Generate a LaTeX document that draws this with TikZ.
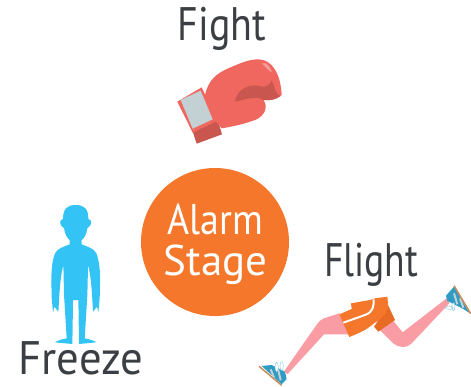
\documentclass[tikz,border=0pt]{standalone}
\usepackage{fontspec}
\setmainfont{PT Sans}
\definecolor{alarmorange}{HTML}{F5772B}
\definecolor{darkorange}{HTML}{E76A25}
\definecolor{glovered}{HTML}{F0675F}
\definecolor{glovedark}{HTML}{C9574F}
\definecolor{glovelight}{HTML}{F59A98}
\definecolor{cuffgrey}{HTML}{C3D0D4}
\definecolor{skyblue}{HTML}{33C4F5}
\definecolor{legpink}{HTML}{F99CA3}
\definecolor{shoeblue}{HTML}{2E9CC4}
\definecolor{soletan}{HTML}{C98B5C}
\definecolor{inkgrey}{HTML}{3B3E42}
\tikzset{
    word/.style = {text = inkgrey, inner sep = 0pt, font = \fontsize{47}{47}\selectfont},
    stageword/.style = {text = white, inner sep = 0pt, font = \fontsize{43}{43}\selectfont},
    partzoom/.style = {scale = 1/3, line join = round}
}
\begin{document}
\begin{tikzpicture}[x = 1pt, y = -1pt]
    \useasboundingbox (0, 0) rectangle (471, 386);
    \node[circle, fill = alarmorange, minimum size = 148pt, inner sep = 0pt] (alarm) at (215, 242) {};
    \node[stageword, xscale = 0.88] (alarmword) at (215.5, 219) {Alarm};
    \node[stageword] (stagelabel) at (215.5, 265) {Stage};
    \node[word, xscale = 0.85] (fight) at (222, 29) {Fight};
    \node[word, xscale = 0.8] (flight) at (371, 265) {Flight};
    \node[word, xscale = 0.95] (freeze) at (81, 358) {Freeze};
    % glove
    \begin{scope}[shift = {(160, 0)}, partzoom]
        \fill[glovedark] (95, 385) -- (172, 355) -- (186, 403) -- (110, 431) -- cycle;
        \fill[glovered] (135, 285) .. controls (145, 240) and (170, 220) .. (205, 205)
            .. controls (240, 190) and (265, 178) .. (295, 178)
            .. controls (335, 178) and (362, 220) .. (365, 285)
            .. controls (350, 300) and (330, 302) .. (310, 300)
            .. controls (325, 320) and (315, 345) .. (290, 358)
            .. controls (255, 372) and (215, 380) .. (185, 385) -- (165, 360) -- cycle;
        \fill[glovedark] (225, 305) .. controls (230, 270) and (265, 250) .. (300, 258)
            .. controls (320, 265) and (335, 250) .. (335, 240)
            .. controls (345, 260) and (345, 285) .. (362, 288)
            .. controls (345, 300) and (325, 302) .. (310, 300)
            .. controls (290, 285) and (250, 300) .. (225, 305) -- cycle;
        \fill[glovelight] (305, 190) .. controls (320, 185) and (330, 200) .. (337, 218)
            .. controls (325, 212) and (315, 200) .. (305, 190) -- cycle;
        \fill[glovered] (52, 305) -- (125, 262) -- (172, 362) -- (98, 398) -- cycle;
        \fill[cuffgrey] (62, 300) -- (122, 272) -- (158, 358) -- (98, 386) -- cycle;
    \end{scope}
    % person
    \begin{scope}[shift = {(75.7, 195)}, partzoom]
        \foreach \sgn in {1, -1}{
            \fill[skyblue, xscale = \sgn] (1, 30) .. controls (-25, 30) and (-38, 40) .. (-38, 72)
                .. controls (-50, 74) and (-50, 90) .. (-35, 100)
                .. controls (-32, 120) and (-25, 130) .. (-18, 135)
                -- (-18, 148) .. controls (-35, 155) and (-55, 160) .. (-62, 175)
                .. controls (-72, 200) and (-73, 230) .. (-73, 260)
                -- (-72, 310) -- (-68, 352) -- (-64, 335) -- (-52, 350) -- (-50, 315)
                .. controls (-48, 280) and (-45, 240) .. (-37, 210)
                -- (-35, 300) -- (-27, 430) .. controls (-40, 433) and (-55, 436) .. (-62, 442)
                -- (-10, 447) -- (-8, 315) -- (1, 315) -- cycle;
        }
    \end{scope}
    % runner
    \begin{scope}[shift = {(250, 235)}, partzoom]
        \fill[legpink] (268, 235) -- (222, 250) .. controls (210, 255) and (205, 262) .. (198, 272)
            -- (103, 408) -- (112, 418) -- (222, 298) -- (295, 298) -- cycle;
        \fill[legpink] (390, 285) -- (430, 258) -- (458, 292) -- (590, 190) -- (598, 205) -- (485, 325)
            .. controls (470, 340) and (450, 340) .. (430, 325) -- cycle;
        \fill[darkorange] (372, 275) -- (385, 290) -- (435, 255) -- (415, 212) -- cycle;
        \fill[alarmorange] (268, 238) -- (305, 222) -- (303, 205) -- (360, 195) -- (375, 190) -- (412, 185)
            -- (415, 215) .. controls (408, 240) and (390, 255) .. (372, 265)
            .. controls (350, 285) and (325, 295) .. (298, 306) -- cycle;
        \draw[white, line width = 2pt] (280, 263) -- (345, 240) .. controls (368, 232) and (372, 215) .. (371, 193);
        % left shoe
        \fill[shoeblue] (35, 393) -- (65, 390) -- (105, 410) -- (110, 432) -- (95, 448) -- cycle;
        \draw[cuffgrey, line width = 2pt] (62, 403) -- (72, 428) (84, 402) -- (92, 436);
        \draw[soletan, line width = 1.5pt] (27, 394) -- (95, 451);
        \draw[shoeblue!60, line width = 0.4pt, fill = white] (80, 396) ellipse (5 and 14)
            (95, 393) ellipse (5 and 13);
        % right shoe
        \fill[shoeblue] (612, 155) -- (588, 182) -- (592, 198) -- (640, 222) -- (660, 235) -- cycle;
        \draw[cuffgrey, line width = 2pt] (612, 175) -- (622, 208) (630, 190) -- (640, 218);
        \draw[soletan, line width = 1.5pt] (612, 152) -- (662, 236);
        \draw[shoeblue!60, line width = 0.4pt, fill = white] (598, 218) ellipse (12 and 5)
            (610, 215) ellipse (5 and 12);
    \end{scope}
\end{tikzpicture}
\end{document}
